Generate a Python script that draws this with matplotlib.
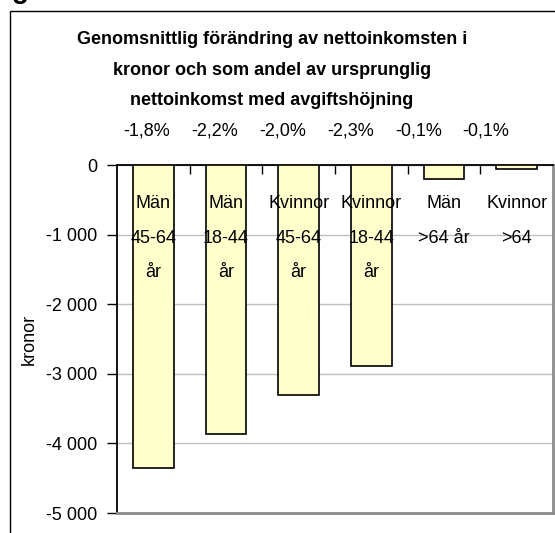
"""
Genomsnittlig förändring av nettoinkomsten, stapeldiagram
"""
import matplotlib
matplotlib.use('Agg')
import matplotlib.pyplot as plt
from matplotlib.patches import Rectangle

plt.rcParams['font.family'] = ['Liberation Sans', 'DejaVu Sans']
plt.rcParams['axes.unicode_minus'] = False

# Data
labels = ['Män\n45-64\når', 'Män\n18-44\når', 'Kvinnor\n45-64\når',
          'Kvinnor\n18-44\når', 'Män\n>64 år', 'Kvinnor\n>64']
kronor = [-4350, -3860, -3310, -2890, -205, -60]
andel = ['-1,8%', '-2,2%', '-2,0%', '-2,3%', '-0,1%', '-0,1%']
yticks = [0, -1000, -2000, -3000, -4000, -5000]
ytick_labels = ['0', '-1 000', '-2 000', '-3 000', '-4 000', '-5 000']

title = ('Genomsnittlig förändring av nettoinkomsten i\n'
         'kronor och som andel av ursprunglig\n'
         'nettoinkomst med avgiftshöjning')

W, H = 555, 533
fig = plt.figure(figsize=(W / 100, H / 100), dpi=100)

# plot area in pixels: x 117..553, y 165..513
ax = fig.add_axes([117 / W, 1 - 513 / H, (553 - 117) / W, (513 - 165) / H])

x = range(len(kronor))
ax.bar(x, kronor, width=0.56, color='#ffffcc', edgecolor='black', linewidth=1.2, zorder=3)

ax.set_xlim(-0.5, len(kronor) - 0.5)
ax.set_ylim(-5000, 0)

ax.set_yticks(yticks)
ax.set_yticklabels(ytick_labels, fontsize=13)
ax.tick_params(axis='y', direction='out', length=7, width=1, pad=7)
ax.yaxis.grid(True, color='#c0c0c0', linewidth=1)
ax.set_axisbelow(True)

# category separator ticks hanging from the zero line
ax.xaxis.tick_top()
ax.set_xticks([i + 0.5 for i in range(len(kronor) - 1)])
ax.tick_params(axis='x', direction='in', length=6.5, width=1, labeltop=False)

ax.spines['top'].set_color('black')
ax.spines['top'].set_linewidth(1.3)
ax.spines['left'].set_color('black')
ax.spines['left'].set_linewidth(1.3)
for s in ('right', 'bottom'):
    ax.spines[s].set_color('#8c8c8c')
    ax.spines[s].set_linewidth(2)

ax.set_ylabel('kronor', fontsize=13, labelpad=6)

# category labels inside the bars, one text per line
line_y = [-550, -1050, -1540]
for i, lab in enumerate(labels):
    for j, part in enumerate(lab.split('\n')):
        ax.text(i, line_y[j], part, ha='center', va='center', fontsize=13, zorder=4)

# percentage row above the plot
for i, p in enumerate(andel):
    ax.text(0.4576 + (i - 2.5) * 0.1555, 1.098, p, transform=ax.transAxes,
            ha='center', va='center', fontsize=13)

fig.text(272 / W, 1 - 31 / H, title, ha='center', va='top', fontsize=13,
         fontweight='bold', linespacing=2.05)

# outer frame of the embedded chart
fig.add_artist(Rectangle((10 / W, -0.2), 2, 1.2 - 11 / H, transform=fig.transFigure,
                         fill=False, edgecolor='black', linewidth=1))
# cut-off heading letter at the very top
fig.text(12 / W, 1 + 2 / H, 'g', ha='left', va='baseline', fontsize=20, fontweight='bold')

fig.savefig('out.png', dpi=100)
